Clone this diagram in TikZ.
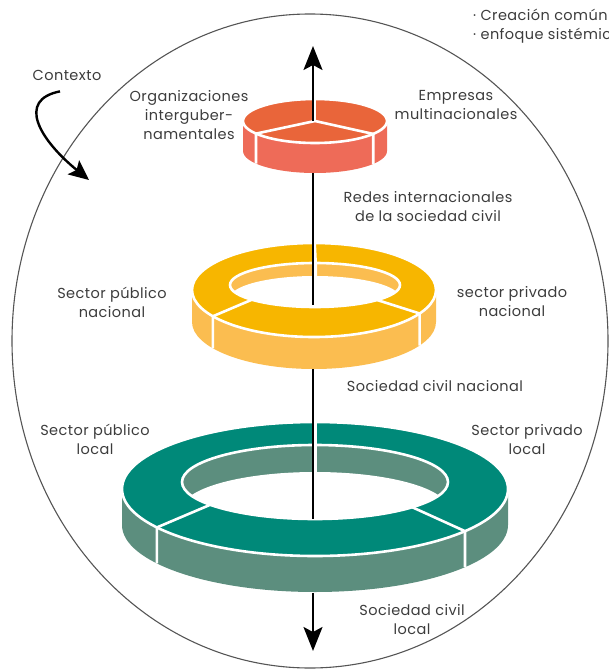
\documentclass[tikz,border=0pt]{standalone}
\usepackage{fontspec}
\setmainfont{Poppins}[LetterSpace=3]
\usetikzlibrary{arrows.meta}
\definecolor{txt}{HTML}{3C3C3C}
\definecolor{ctxline}{HTML}{555555}
\definecolor{orTop}{RGB}{233,101,58}
\definecolor{orSide}{RGB}{238,107,88}
\definecolor{yeTop}{RGB}{247,182,0}
\definecolor{yeSide}{RGB}{251,189,80}
\definecolor{teTop}{RGB}{0,137,121}
\definecolor{teSide}{RGB}{92,142,126}
\begin{document}
\begin{tikzpicture}[x=1pt,y=-1pt,
  lbl/.style={text=txt, font=\fontsize{14.5}{19}\selectfont, align=center, inner sep=0pt},
  sep/.style={draw=white, line width=2.6pt},
  axisline/.style={draw=black, line width=2.2pt},
  axisarrow/.style={axisline, -{Stealth[length=24pt,width=19pt,inset=5pt]}},
  ctxarrow/.style={draw=black, line width=2.4pt, -{Stealth[length=20pt,width=18pt,inset=4pt]}},
  ]
\useasboundingbox (0,0) rectangle (609,671);

% context ellipse
\draw[ctxline, line width=1.1pt] (310,341) ellipse[x radius=298, y radius=327];

% ---------- top disc ----------
\coordinate (tdc) at (315,121);
\fill[orSide] ([shift={(180:72 and 22)}]tdc) arc[start angle=180,end angle=0,x radius=72,y radius=22]
  -- ++(0,30) arc[start angle=0,end angle=180,x radius=72,y radius=22] -- cycle;
\fill[orTop] (tdc) ellipse[x radius=72, y radius=22];
\draw[sep] (tdc) ellipse[x radius=72, y radius=22];
\draw[sep] (tdc) -- ([shift={(145:72 and 22)}]tdc) -- ++(0,30);
\draw[sep] (tdc) -- ([shift={(36:72 and 22)}]tdc) -- ++(0,30);
\draw[sep] (tdc) -- ([shift={(270:72 and 22)}]tdc);
\coordinate (axTopStart) at (313,121);
\coordinate (axTopTip) at (313,46);
\draw[axisarrow] (axTopStart) -- (axTopTip);

% ---------- middle ring ----------
\coordinate (mc) at (314,290);
\coordinate (mic) at (315,285);
\fill[yeSide] ([shift={(180:122 and 47)}]mc) arc[start angle=180,end angle=0,x radius=122,y radius=47]
  -- ++(0,32) arc[start angle=0,end angle=180,x radius=122,y radius=47] -- cycle;
\fill[yeTop, even odd rule] (mc) ellipse[x radius=122,y radius=47] (mic) ellipse[x radius=85,y radius=22];
\begin{scope}
  \clip (mic) ellipse[x radius=85,y radius=22];
  \fill[yeSide] (mic) ellipse[x radius=85,y radius=22];
  \fill[white] ([shift={(0,13)}]mic) ellipse[x radius=85,y radius=22];
\end{scope}
\draw[sep] (mc) ellipse[x radius=122,y radius=47] (mic) ellipse[x radius=85,y radius=22];
\draw[sep] ([shift={(138:85 and 22)}]mic) -- ([shift={(146:122 and 47)}]mc) -- ++(0,32);
\draw[sep] ([shift={(43:85 and 22)}]mic) -- ([shift={(30:122 and 47)}]mc) -- ++(0,32);
\draw[sep, line width=4pt] ([shift={(270:122 and 47)}]mc) -- ([shift={(270:85 and 22)}]mic) -- ++(0,13);
\coordinate (axA1) at (313,173);
\coordinate (axA2) at (313,305);
\draw[axisline] (axA1) -- (axA2);

% ---------- bottom ring ----------
\coordinate (bc) at (315,489);
\coordinate (bic) at (315,482);
\fill[teSide] ([shift={(180:193 and 67)}]bc) arc[start angle=180,end angle=0,x radius=193,y radius=67]
  -- ++(0,36) arc[start angle=0,end angle=180,x radius=193,y radius=67] -- cycle;
\fill[teTop, even odd rule] (bc) ellipse[x radius=193,y radius=67] (bic) ellipse[x radius=133,y radius=37];
\begin{scope}
  \clip (bic) ellipse[x radius=133,y radius=37];
  \fill[teSide] (bic) ellipse[x radius=133,y radius=37];
  \fill[white] ([shift={(0,27)}]bic) ellipse[x radius=133,y radius=37];
\end{scope}
\draw[sep] (bc) ellipse[x radius=193,y radius=67] (bic) ellipse[x radius=133,y radius=37];
\draw[sep] ([shift={(142:133 and 37)}]bic) -- ([shift={(145:193 and 67)}]bc) -- ++(0,36);
\draw[sep] ([shift={(43:133 and 37)}]bic) -- ([shift={(39:193 and 67)}]bc) -- ++(0,36);
\draw[sep, line width=4pt] ([shift={(270:193 and 67)}]bc) -- ([shift={(270:133 and 37)}]bic) -- ++(0,27);
\coordinate (axB1) at (313,369);
\coordinate (axB2) at (313,519);
\draw[axisline] (axB1) -- (axB2);

\coordinate (axBotStart) at (313,593);
\coordinate (axBotTip) at (313,651);
\draw[axisarrow] (axBotStart) -- (axBotTip);

% ---------- labels ----------
\node[lbl] (orgint) at (189,115.5) {Organizaciones\\interguber-\\namentales};
\node[lbl] (empmul) at (456,105.5) {Empresas\\multinacionales};
\node[lbl] (redes) at (428,207) {Redes internacionales\\de la sociedad civil};
\node[lbl] (spubnac) at (112,302) {Sector público\\nacional};
\node[lbl] (sprivnac) at (512,302) {sector privado\\nacional};
\node[lbl] (scivnac) at (435,386) {Sociedad civil nacional};
\node[lbl] (spubloc) at (95,439.5) {Sector público\\local};
\node[lbl] (sprivloc) at (527,439.5) {Sector privado\\local};
\node[lbl] (scivloc) at (412,620) {Sociedad civil\\local};
\node[lbl] (contexto) at (67,75) {Contexto};

\begin{scope}
  \clip (0,0) rectangle (609,671);
  \node[lbl, anchor=west] (crea) at (473,15) {· Creación común};
  \node[lbl, anchor=west] (enfo) at (473,36) {· enfoque sistémico};
\end{scope}

% context arrow
\coordinate (ctxend) at (89,180);
\draw[ctxarrow] ([shift={(-7,11)}]contexto.south) .. controls (16,100) and (40,140) .. (ctxend);
\end{tikzpicture}
\end{document}
